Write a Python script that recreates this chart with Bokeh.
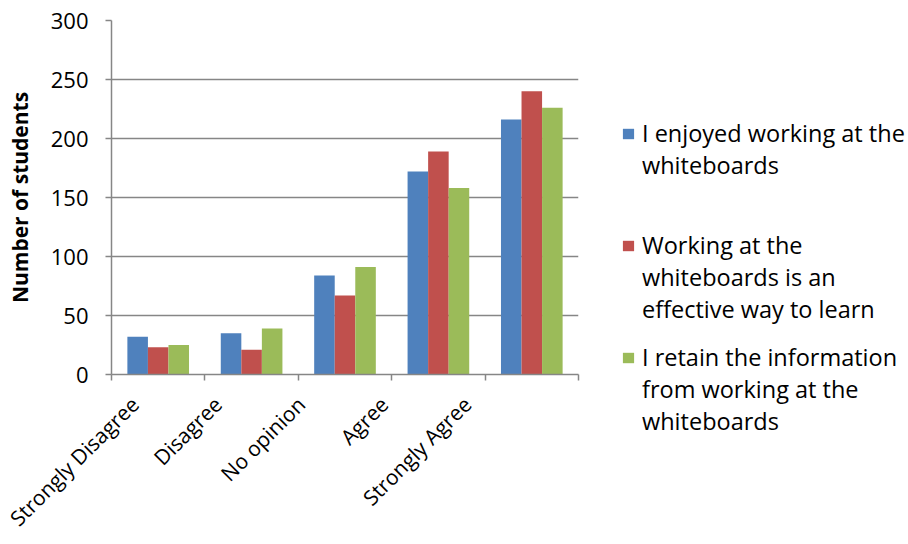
import math
from bokeh.plotting import figure
from bokeh.layouts import row
from bokeh.models import FixedTicker, Legend, LegendItem, Range1d
from bokeh.embed import file_html
from bokeh.resources import INLINE

categories = ["Strongly Disagree", "Disagree", "No opinion", "Agree", "Strongly Agree"]
series_labels = [
    ["I enjoyed working at the", "whiteboards"],
    ["Working at the", "whiteboards is an", "effective way to learn"],
    ["I retain the information", "from working at the", "whiteboards"],
]
enjoyed = [32, 35, 84, 172, 216]
effective = [23, 21, 67, 189, 240]
retain = [25, 39, 91, 158, 226]
y_ticks = [0, 50, 100, 150, 200, 250, 300]

series = [enjoyed, effective, retain]
colors = ["#4F81BD", "#C0504D", "#9BBB59"]
FONT = "Open Sans"
AXIS_GREY = "#868686"

p = figure(width=580, height=544, output_backend="svg", toolbar_location=None,
           x_range=Range1d(0, len(categories)), y_range=Range1d(0, 300),
           min_border_left=111, min_border_right=2, min_border_top=20,
           min_border_bottom=170)
p.outline_line_color = None
p.background_fill_color = "white"

bw = 0.22
offsets = [-bw, 0.0, bw]
for vals, off, col in zip(series, offsets, colors):
    xs = [i + 0.5 + off for i in range(len(categories))]
    p.vbar(x=xs, top=vals, bottom=0, width=bw, fill_color=col, line_color=None)

# x axis: boundary ticks between categories, rotated labels
p.xgrid.visible = False
label_pos = [i + 0.5 - 0.25 - 0.11 * i for i in range(len(categories))]
xa = p.xaxis[0]
xa.ticker = FixedTicker(ticks=label_pos, minor_ticks=list(range(len(categories) + 1)))
xa.major_label_overrides = {lp: c for lp, c in zip(label_pos, categories)}
xa.major_label_orientation = math.pi / 4
xa.major_tick_line_color = None
xa.minor_tick_line_color = AXIS_GREY
xa.minor_tick_line_width = 1.5
xa.minor_tick_out = 6
xa.minor_tick_in = 0
xa.axis_line_color = AXIS_GREY
xa.axis_line_width = 1.5
xa.major_label_text_font = FONT
xa.major_label_text_font_size = "21px"
xa.major_label_text_color = "black"
xa.major_label_standoff = 20

# y axis
ya = p.yaxis[0]
ya.ticker = FixedTicker(ticks=y_ticks)
ya.major_tick_out = 6
ya.major_tick_in = 0
ya.major_tick_line_color = AXIS_GREY
ya.major_tick_line_width = 1.5
ya.minor_tick_line_color = None
ya.axis_line_color = AXIS_GREY
ya.axis_line_width = 1.5
ya.major_label_text_font = FONT
ya.major_label_text_font_size = "22px"
ya.major_label_text_color = "black"
ya.major_label_standoff = 17
ya.axis_label = "Number of students"
ya.axis_label_text_font = FONT
ya.axis_label_text_font_style = "bold"
ya.axis_label_text_font_size = "21px"
ya.axis_label_text_color = "black"
ya.axis_label_standoff = 14

p.ygrid.grid_line_color = AXIS_GREY
p.ygrid.grid_line_width = 1.5

# legend panel on the right
pl = figure(width=328, height=544, output_backend="svg", toolbar_location=None,
            x_range=Range1d(0, 1), y_range=Range1d(0, 1),
            x_axis_location=None, y_axis_location=None, min_border=0)
pl.frame_align = False
pl.outline_line_color = None
pl.grid.visible = False
blank = pl.vbar(x=[], top=[], width=0.1, fill_alpha=0, line_alpha=0)
leg_y = [363, 219, 107]
for lines, col, ly in zip(series_labels, colors, leg_y):
    swatch = pl.vbar(x=[-5], top=[0], width=0.1, fill_color=col, line_color=None)
    items = [LegendItem(label=lines[0], renderers=[swatch])]
    items += [LegendItem(label=t, renderers=[blank]) for t in lines[1:]]
    leg = Legend(items=items, location=(41, ly), spacing=0,
                 glyph_width=14, glyph_height=13, label_standoff=7,
                 label_height=32, label_text_font=FONT,
                 label_text_font_size="23.5px", label_text_color="black",
                 border_line_color=None, background_fill_alpha=0,
                 padding=0, margin=0)
    pl.add_layout(leg)

layout = row(p, pl)
open("out.html", "w").write(file_html(layout, INLINE))
